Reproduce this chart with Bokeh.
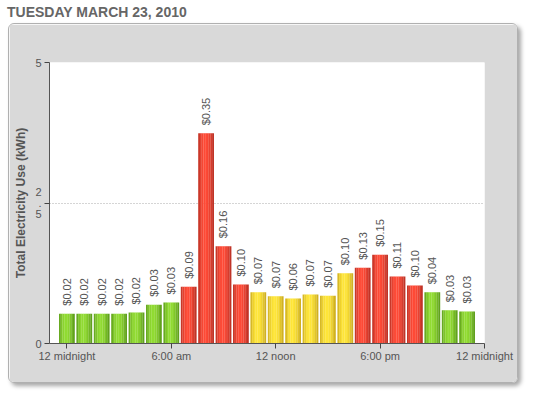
import math
from bokeh.plotting import figure
from bokeh.layouts import column
from bokeh.models import ColumnDataSource, LabelSet, FixedTicker, Div
from bokeh.transform import dodge
from bokeh.core.properties import value, field
from bokeh.embed import file_html
from bokeh.resources import INLINE

# ---- data ----
hours = list(range(24))
kwh = [0.53, 0.53, 0.53, 0.53, 0.55, 0.69, 0.73, 1.01, 3.74, 1.73, 1.05, 0.91,
       0.84, 0.80, 0.87, 0.85, 1.25, 1.35, 1.58, 1.19, 1.03, 0.91, 0.59, 0.57]
cost = ["$0.02", "$0.02", "$0.02", "$0.02", "$0.02", "$0.03", "$0.03", "$0.09",
        "$0.35", "$0.16", "$0.10", "$0.07", "$0.07", "$0.06", "$0.07", "$0.07",
        "$0.10", "$0.13", "$0.15", "$0.11", "$0.10", "$0.04", "$0.03", "$0.03"]
tier = ["green"] * 7 + ["red"] * 4 + ["yellow"] * 6 + ["red"] * 4 + ["green"] * 3
x_tick_values = [0, 6, 12, 18, 24]
x_tick_labels = ["12 midnight", "6:00 am", "12 noon", "6:00 pm", "12 midnight"]
y_tick_values = [0, 2.5, 5]
y_tick_labels = ["0", "2\n.\n5", "5"]
title_text = "TUESDAY MARCH 23, 2010"
y_label = "Total Electricity Use (kWh)"

# ---- styling ----
EDGE = {"green": "#56941a", "red": "#b22f24", "yellow": "#c6a61c"}
CENTER = {"green": "#92dc32", "red": "#ff4a36", "yellow": "#ffe638"}


def hex2rgb(h):
    h = h.lstrip("#")
    return [int(h[i:i + 2], 16) for i in (0, 2, 4)]


def mix(c1, c2, t):
    a, b = hex2rgb(c1), hex2rgb(c2)
    return "#%02x%02x%02x" % tuple(int(round(a[k] + (b[k] - a[k]) * t)) for k in range(3))


N = 9
BAR_W = 0.9
data = dict(hour=hours, kwh=kwh, cost=cost, tier=tier)
for i in range(N):
    u = (i + 0.5) / N
    f = math.sin(math.pi * u ** 0.85) ** 0.9
    data[f"c{i}"] = [mix(EDGE[t], CENTER[t], f) for t in tier]
src = ColumnDataSource(data)

title = Div(text=title_text, width=300, height=19, margin=(4, 0, 0, 7),
            styles={"font-family": "Liberation Sans", "font-size": "14px",
                    "font-weight": "bold", "color": "#666666", "line-height": "16px"})

p = figure(width=510, height=360, x_range=(-1, 24), y_range=(0, 5),
           output_backend="svg", toolbar_location=None, tools="",
           min_border_left=40, min_border_right=35, min_border_top=38,
           min_border_bottom=41, margin=(0, 0, 0, 8),
           styles={"border": "1px solid #b0b0b0", "border-radius": "6px",
                   "overflow": "hidden",
                   "box-shadow": "3px 3px 4px rgba(0,0,0,0.35)"})
p.outline_line_color = None
p.border_fill_color = "#d9d9d9"
p.background_fill_color = "white"

# bars drawn as vertical strips to mimic the cylinder gradient
sw = BAR_W / N
for i in range(N):
    off = -BAR_W / 2 + sw * (i + 0.5)
    p.vbar(x=dodge("hour", off, range=p.x_range), top="kwh", bottom=0,
           width=sw * 1.08, fill_color=field(f"c{i}"), line_color=None, source=src)

labels = LabelSet(x="hour", y="kwh", text="cost", source=src, angle=math.pi / 2,
                  text_align="left", text_baseline="middle", y_offset=8,
                  text_font=value("Liberation Sans"), text_font_size="11px",
                  text_color="#555555")
p.add_layout(labels)

# axes
p.xaxis.ticker = FixedTicker(ticks=x_tick_values)
p.xaxis.major_label_overrides = dict(zip(x_tick_values, x_tick_labels))
p.yaxis.ticker = FixedTicker(ticks=y_tick_values)
p.yaxis.major_label_overrides = dict(zip(y_tick_values, y_tick_labels))
for ax in (p.xaxis[0], p.yaxis[0]):
    ax.axis_line_color = "#555555"
    ax.axis_line_width = 1
    ax.major_tick_line_color = "#444444"
    ax.major_tick_in = 0
    ax.major_tick_out = 5
    ax.minor_tick_line_color = None
    ax.major_label_text_font = "Liberation Sans"
    ax.major_label_text_font_size = "11px"
    ax.major_label_text_color = "#555555"
p.xaxis.major_label_standoff = 1
p.yaxis.major_label_standoff = 3
p.yaxis.major_label_text_line_height = 0.95
p.yaxis.axis_label = y_label
p.yaxis.axis_label_text_font = "Liberation Sans"
p.yaxis.axis_label_text_font_size = "12px"
p.yaxis.axis_label_text_font_style = "bold"
p.yaxis.axis_label_text_color = "#555555"
p.yaxis.axis_label_standoff = 4

p.xgrid.visible = False
p.ygrid.ticker = FixedTicker(ticks=[2.5])
p.ygrid.grid_line_color = "#aaaaaa"
p.ygrid.grid_line_dash = "1 2"

layout = column(title, p, spacing=0)
open("out.html", "w").write(file_html(layout, INLINE))
